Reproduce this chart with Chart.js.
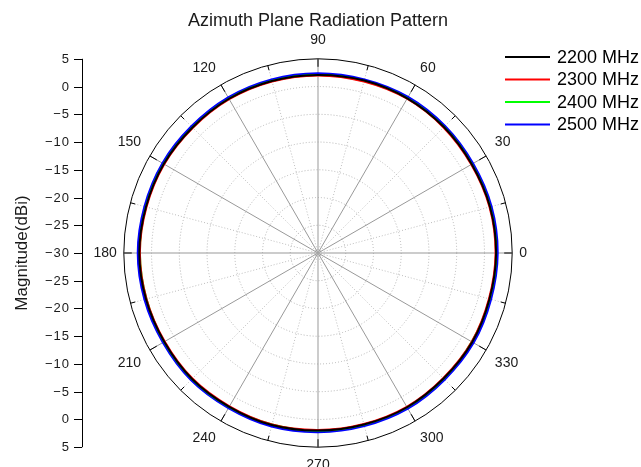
<!DOCTYPE html>
<html>
<head>
<meta charset="utf-8">
<script src="https://cdn.jsdelivr.net/npm/chart.js@4.4.1/dist/chart.umd.min.js"></script>
<style>
  html, body { margin: 0; padding: 0; background: #fff; overflow: hidden; }
  #wrap { position: relative; width: 641px; height: 480px; }
</style>
</head>
<body>
<div id="wrap"><canvas id="polarChart"></canvas></div>
<script>
// azimuth angles, clockwise from the top (90 deg) in 15 deg steps
const angles = [90, 75, 60, 45, 30, 15, 0, 345, 330, 315, 300, 285,
                270, 255, 240, 225, 210, 195, 180, 165, 150, 135, 120, 105];

// magnitude ticks (dBi): centre of the plot is -30, outer ring is 5
const magTicks = [-30, -25, -20, -15, -10, -5, 0, 5];

const seriesNames = ['2200 MHz', '2300 MHz', '2400 MHz', '2500 MHz'];

const gain2200 = [2.1, 2.2, 2.2, 2.1, 2.0, 2.1, 2.1, 2.0, 2.1, 2.0, 2.1, 2.0,
                  2.0, 2.1, 2.0, 2.1, 2.0, 2.1, 2.2, 2.1, 2.1, 2.0, 2.1, 2.1];
const gain2300 = [2.0, 2.0, 2.1, 2.0, 1.9, 2.0, 2.0, 1.9, 2.0, 1.9, 2.0, 1.9,
                  1.9, 2.0, 1.9, 2.0, 1.9, 2.0, 2.1, 2.0, 2.0, 1.9, 2.0, 2.0];
const gain2400 = [2.1, 2.1, 2.2, 2.1, 2.0, 2.1, 2.1, 2.0, 2.0, 2.0, 2.1, 2.0,
                  2.0, 2.0, 2.0, 2.1, 2.0, 2.0, 2.1, 2.1, 2.1, 2.0, 2.1, 2.1];
const gain2500 = [2.3, 2.3, 2.4, 2.3, 2.2, 2.3, 2.3, 2.2, 2.3, 2.2, 2.3, 2.2,
                  2.2, 2.3, 2.2, 2.3, 2.2, 2.3, 2.4, 2.3, 2.3, 2.2, 2.3, 2.3];

Chart.defaults.font.family = 'Arial, "Liberation Sans", sans-serif';
Chart.defaults.color = '#1a1a1a';

const fmt = (v) => (v < 0 ? '\u2212' + Math.abs(v) : String(v));

// left magnitude axis, mirrored above and below the centre
const leftAxis = {
  id: 'leftAxis',
  afterDraw(chart) {
    const r = chart.scales.r;
    const ctx = chart.ctx;
    const x = 82;
    const yc = r.yCenter;
    const top = r.getDistanceFromCenterForValue(magTicks[magTicks.length - 1]);
    ctx.save();
    ctx.strokeStyle = '#000';
    ctx.lineWidth = 1;
    ctx.beginPath();
    ctx.moveTo(x + 0.5, yc - top);
    ctx.lineTo(x + 0.5, yc + top);
    ctx.stroke();
    ctx.font = '13px Arial, "Liberation Sans", sans-serif';
    ctx.letterSpacing = '1px';
    ctx.fillStyle = '#1a1a1a';
    ctx.textAlign = 'right';
    ctx.textBaseline = 'middle';
    magTicks.forEach((v) => {
      const d = r.getDistanceFromCenterForValue(v);
      const ys = d === 0 ? [yc] : [yc - d, yc + d];
      ys.forEach((y) => {
        const yy = Math.round(y) + 0.5;
        ctx.beginPath();
        ctx.moveTo(x - 8, yy);
        ctx.lineTo(x, yy);
        ctx.stroke();
        ctx.fillText(fmt(v), x - 12, yy);
      });
    });
    ctx.translate(22, yc);
    ctx.rotate(-Math.PI / 2);
    ctx.letterSpacing = '0px';
    ctx.textAlign = 'center';
    ctx.font = '17px Arial, "Liberation Sans", sans-serif';
    ctx.fillText('Magnitude(dBi)', 0, 0);
    ctx.restore();
  }
};

// small inward ticks on the outer ring
const ringTicks = {
  id: 'ringTicks',
  afterDraw(chart) {
    const r = chart.scales.r;
    const ctx = chart.ctx;
    const R = r.drawingArea;
    ctx.save();
    ctx.strokeStyle = '#000';
    ctx.lineWidth = 1;
    angles.forEach((a, i) => {
      const len = a % 30 === 0 ? 8 : 5;
      const p1 = r.getPointPosition(i, R);
      const p2 = r.getPointPosition(i, R - len);
      ctx.beginPath();
      ctx.moveTo(p1.x, p1.y);
      ctx.lineTo(p2.x, p2.y);
      ctx.stroke();
    });
    ctx.restore();
  }
};

// line legend in the top right corner
const lineLegend = {
  id: 'lineLegend',
  afterDraw(chart) {
    const ctx = chart.ctx;
    ctx.save();
    ctx.font = '18px Arial, "Liberation Sans", sans-serif';
    ctx.textBaseline = 'middle';
    ctx.fillStyle = '#000';
    chart.data.datasets.forEach((ds, i) => {
      const y = 57 + i * 22.5;
      ctx.strokeStyle = ds.borderColor;
      ctx.lineWidth = 2;
      ctx.beginPath();
      ctx.moveTo(505, y);
      ctx.lineTo(550, y);
      ctx.stroke();
      ctx.fillText(ds.label, 557, y + 1);
    });
    ctx.restore();
  }
};

const polar = document.getElementById('polarChart');

new Chart(polar, {
  type: 'radar',
  data: {
    labels: angles,
    datasets: [
      { label: seriesNames[0], data: gain2200, borderColor: '#000000', borderWidth: 2 },
      { label: seriesNames[1], data: gain2300, borderColor: '#ff0000', borderWidth: 2 },
      { label: seriesNames[2], data: gain2400, borderColor: '#00ff00', borderWidth: 2 },
      { label: seriesNames[3], data: gain2500, borderColor: '#0000ff', borderWidth: 3 }
    ]
  },
  options: {
    responsive: true,
    maintainAspectRatio: false,
    animation: false,
    layout: {
      padding: { left: 60, right: 65, top: 0, bottom: 5 }
    },
    elements: {
      line: { fill: false, tension: 0.35 },
      point: { radius: 0, hoverRadius: 0 }
    },
    plugins: {
      legend: { display: false },
      tooltip: { enabled: false },
      title: {
        display: true,
        text: 'Azimuth Plane Radiation Pattern',
        color: '#1a1a1a',
        font: { size: 18, weight: 'normal' },
        padding: { top: 10, bottom: 1.4 }
      }
    },
    scales: {
      r: {
        min: magTicks[0],
        max: magTicks[magTicks.length - 1],
        ticks: { stepSize: 5, display: false },
        grid: {
          circular: true,
          color: (c) => (c.tick && c.tick.value === magTicks[magTicks.length - 1] ? '#000000' : '#b4b4b4'),
          lineWidth: 1
        },
        border: {
          dash: (c) => (c.tick && c.tick.value === magTicks[magTicks.length - 1] ? [] : [1, 2])
        },
        angleLines: {
          color: (c) => (angles[c.index] % 30 === 0 ? '#999999' : '#bdbdbd'),
          lineWidth: 1,
          borderDash: (c) => (angles[c.index] % 30 === 0 ? [] : [1, 2])
        },
        pointLabels: {
          color: '#1a1a1a',
          font: { size: 14 },
          padding: (c) => (angles[c.index] % 180 === 0 ? 7 : 10),
          callback: (label, i) => (angles[i] % 30 === 0 ? String(label) : '')
        }
      }
    }
  },
  plugins: [leftAxis, ringTicks, lineLegend]
});
</script>
</body>
</html>
